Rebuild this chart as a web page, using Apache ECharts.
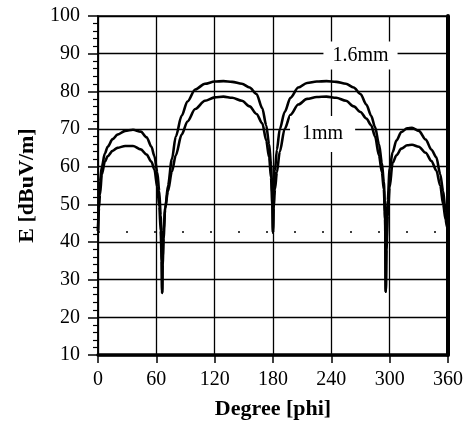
<!DOCTYPE html>
<html>
<head>
<meta charset="utf-8">
<script src="https://cdn.jsdelivr.net/npm/echarts@6/dist/echarts.min.js"></script>
<style>
html, body { margin: 0; padding: 0; background: #fff; }
#chart { width: 468px; height: 432px; }
</style>
</head>
<body>
<div id="chart"></div>
<script>
// angle phi in degrees (denser near the nulls)
var phi = [0, 1, 2, 4, 7, 10, 15, 20, 28, 36, 44, 50, 55, 58, 61, 63, 64.5, 65.5, 66,
	66.5, 67.5, 69, 72, 76, 80, 86, 92, 100, 110, 120, 129, 138, 148, 156, 163, 169, 173, 176, 178, 179.3, 180,
	180.7, 182, 184, 187, 192, 198, 206, 215, 225, 235, 245, 255, 263, 270, 276, 281, 285, 289, 292, 294, 295.3, 296,
	296.7, 298, 300, 303, 307, 312, 318, 323, 330, 337, 343, 348, 352, 355, 357.5, 359, 360];

// E [dBuV/m], 1.6mm
var e16mm = [43, 52, 56, 60, 63.5, 65.3, 67.3, 68.5, 69.5, 69.8, 69.3, 67.8, 65.3, 62.8, 58.5, 53.5, 47, 38, 26.5,
	36, 43, 48.5, 55, 62, 68, 73.5, 77.3, 80.5, 82.0, 82.6, 82.7, 82.5, 82, 81, 79.3, 75.5, 71, 66, 60.5, 53, 42.5,
	52, 59, 64.5, 70, 74.5, 78.3, 81, 82.2, 82.6, 82.7, 82.5, 82, 81, 79.3, 76.5, 73.5, 70.5, 66, 61, 56, 48, 26.8,
	40, 51, 59.5, 63.8, 67, 69.2, 70.2, 70.3, 69.5, 67.2, 64.5, 62.5, 58, 53.5, 48, 45, 42.5];

// E [dBuV/m], 1mm
var e1mm = [43, 49, 52.5, 58, 61.3, 62.8, 64.2, 65, 65.5, 65.5, 64.6, 63.2, 61.3, 59.3, 54.5, 49.5, 43, 35, 26.5,
	34, 41, 49, 53.5, 58.7, 63, 68.5, 72, 75.3, 77.5, 78.4, 78.6, 78.3, 77.5, 76, 74, 71.5, 67, 62.5, 57, 50, 42.5,
	49, 54, 58.5, 64, 70, 73.8, 76.5, 78, 78.5, 78.6, 78.3, 77.5, 76, 74.5, 72.8, 71, 68, 63, 58.5, 54, 46, 26.8,
	38, 47, 54.5, 61, 63, 64.8, 65.7, 65.8, 65.3, 63.7, 61.5, 59, 55, 50, 46, 44, 42.5];

var xTicks = [0, 60, 120, 180, 240, 300, 360];
var yTicks = [10, 20, 30, 40, 50, 60, 70, 80, 90, 100];
var refLevel = 42.7; // dotted level line

var font = 'Liberation Serif';

function pairs(xs, ys) {
	return xs.map(function (x, i) { return [x, ys[i]]; });
}

var chart = echarts.init(document.getElementById('chart'));
var option = {
	animation: false,
	backgroundColor: '#fff',
	grid: {
		left: 98, right: 20, top: 16, bottom: 77,
		containLabel: false,
		outerBoundsMode: 'none',
		show: true,
		borderColor: '#000',
		borderWidth: 1.5
	},
	xAxis: {
		type: 'value',
		min: xTicks[0],
		max: xTicks[xTicks.length - 1],
		interval: 60,
		name: 'Degree [phi]',
		nameLocation: 'middle',
		nameGap: 43,
		nameTextStyle: { fontFamily: font, fontWeight: 'bold', fontSize: 22, color: '#000' },
		axisLine: { lineStyle: { color: '#000', width: 3.5 } },
		axisTick: { show: true, length: 8, lineStyle: { color: '#000', width: 1.5 } },
		axisLabel: { fontFamily: font, fontSize: 20, color: '#000', margin: 15 },
		splitLine: { show: true, lineStyle: { color: '#000', width: 1.3 } }
	},
	yAxis: [{
		type: 'value',
		min: yTicks[0],
		max: yTicks[yTicks.length - 1],
		interval: 10,
		name: 'E [dBuV/m]',
		nameLocation: 'middle',
		nameGap: 60,
		nameTextStyle: { fontFamily: font, fontWeight: 'bold', fontSize: 22, color: '#000' },
		axisLine: { show: true, lineStyle: { color: '#000', width: 1.5 } },
		axisTick: { show: true, length: 10, lineStyle: { color: '#000', width: 1.5 } },
		minorTick: { show: true, splitNumber: 5, length: 5, lineStyle: { color: '#000', width: 1.2 } },
		axisLabel: { fontFamily: font, fontSize: 20, color: '#000', margin: 18 },
		splitLine: { show: true, lineStyle: { color: '#000', width: 1.3 } }
	}, {
		type: 'value',
		position: 'right',
		min: yTicks[0],
		max: yTicks[yTicks.length - 1],
		axisLine: { show: true, lineStyle: { color: '#000', width: 4 } },
		axisTick: { show: false },
		axisLabel: { show: false },
		splitLine: { show: false }
	}],
	series: [{
		name: '1.6mm',
		type: 'line',
		data: pairs(phi, e16mm),
		showSymbol: false,
		smooth: 0.3,
		smoothMonotone: 'x',
		lineStyle: { color: '#000', width: 2.6 },
		z: 3,
		markPoint: {
			symbol: 'rect',
			symbolSize: 1,
			itemStyle: { color: 'transparent' },
			label: {
				show: true,
				position: 'inside',
				fontFamily: font,
				fontSize: 20,
				color: '#000',
				backgroundColor: '#fff',
				padding: [4, 9],
				formatter: '{b}'
			},
			data: [
				{ name: '1.6mm', coord: [270, 89.5] },
				{ name: '1mm', coord: [231, 68.7], label: { padding: [8, 12] } }
			]
		},
		markLine: {
			silent: true,
			symbol: 'none',
			label: { show: false },
			lineStyle: { color: '#000', width: 1.5, type: [2, 26] },
			data: [{ yAxis: refLevel }]
		}
	}, {
		name: '1mm',
		type: 'line',
		data: pairs(phi, e1mm),
		showSymbol: false,
		smooth: 0.3,
		smoothMonotone: 'x',
		lineStyle: { color: '#000', width: 2.6 },
		z: 3
	}]
};
chart.setOption(option);
</script>
</body>
</html>
